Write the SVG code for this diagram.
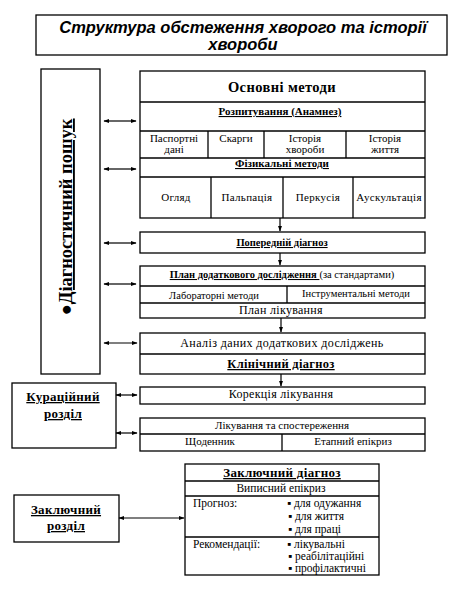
<svg xmlns="http://www.w3.org/2000/svg" width="461" height="590" viewBox="0 0 461 590">
<style>
.box{fill:#fff;stroke:#000;stroke-width:1.3}
.ln{stroke:#000;stroke-width:1.3;fill:none}
.t{font-family:"Liberation Serif","Times New Roman",serif;fill:#000}
.c{text-anchor:middle}
.b{font-weight:bold}
.u{text-decoration:underline}
.conn line{stroke:#000;stroke-width:1.2}
</style>
<defs>
<marker id="ah" viewBox="0 0 10 10" refX="9" refY="5" markerWidth="5" markerHeight="5" orient="auto-start-reverse">
<path d="M0,1.5 L10,5 L0,8.5 z" fill="#000"/>
</marker>
</defs>
<rect width="461" height="590" fill="#fff"/>

<g id="title">
<rect class="box" x="36" y="15" width="411" height="40"/>
<text x="243" y="33" font-family="Liberation Sans, Arial, sans-serif" font-weight="bold" font-style="italic" font-size="16.5" text-anchor="middle">Структура обстеження хворого та історії</text>
<text x="243" y="50" font-family="Liberation Sans, Arial, sans-serif" font-weight="bold" font-style="italic" font-size="16.5" text-anchor="middle">хвороби</text>
</g>

<g id="diag-search">
<rect class="box" x="41" y="69" width="59" height="305"/>
<text class="t b" x="0" y="0" font-size="18.5" text-anchor="middle" transform="translate(72,217) rotate(-90)">●<tspan text-decoration="underline">Діагностичний  пошук</tspan></text>
</g>

<g id="main-methods">
<rect class="box" x="140" y="71" width="285" height="147"/>
<line class="ln" x1="140" y1="102" x2="425" y2="102"/>
<line class="ln" x1="140" y1="131" x2="425" y2="131"/>
<line class="ln" x1="140" y1="158" x2="425" y2="158"/>
<line class="ln" x1="140" y1="177" x2="425" y2="177"/>
<line class="ln" x1="208" y1="131" x2="208" y2="158"/>
<line class="ln" x1="264" y1="131" x2="264" y2="158"/>
<line class="ln" x1="346" y1="131" x2="346" y2="158"/>
<line class="ln" x1="211" y1="177" x2="211" y2="218"/>
<line class="ln" x1="283" y1="177" x2="283" y2="218"/>
<line class="ln" x1="353" y1="177" x2="353" y2="218"/>
<text class="t c b" x="282" y="92" font-size="14.5" letter-spacing="0.4">Основні методи</text>
<text class="t c b u" x="280" y="115" font-size="11">Розпитування (Анамнез)</text>
<text class="t c" x="174" y="142" font-size="11">Паспортні</text>
<text class="t c" x="174" y="153" font-size="11">дані</text>
<text class="t c" x="236" y="142" font-size="11">Скарги</text>
<text class="t c" x="305" y="142" font-size="11">Історія</text>
<text class="t c" x="305" y="153" font-size="11">хвороби</text>
<text class="t c" x="385" y="142" font-size="11">Історія</text>
<text class="t c" x="385" y="153" font-size="11">життя</text>
<text class="t c b u" x="282" y="167" font-size="11">Фізикальні методи</text>
<text class="t c" x="176" y="201" font-size="11" letter-spacing="0.3">Огляд</text>
<text class="t c" x="247" y="201" font-size="11" letter-spacing="0.3">Пальпація</text>
<text class="t c" x="318" y="201" font-size="11" letter-spacing="0.3">Перкусія</text>
<text class="t c" x="389" y="201" font-size="11" letter-spacing="0.3">Аускультація</text>
</g>

<g id="prelim-diag">
<rect class="box" x="140" y="232" width="285" height="21"/>
<text class="t c b u" x="282" y="246" font-size="10.5">Попередній діагноз</text>
</g>

<g id="plan">
<rect class="box" x="140" y="266" width="285" height="52"/>
<line class="ln" x1="140" y1="286" x2="425" y2="286"/>
<line class="ln" x1="140" y1="303" x2="425" y2="303"/>
<line class="ln" x1="287" y1="286" x2="287" y2="303"/>
<text class="t c" x="282" y="278" font-size="10.5"><tspan font-weight="bold" text-decoration="underline">План додаткового дослідження </tspan>(за стандартами)</text>
<text class="t c" x="214" y="299" font-size="10.5">Лабораторні методи</text>
<text class="t c" x="356" y="297" font-size="10.5">Інструментальні методи</text>
<text class="t c" x="281" y="314" font-size="12" letter-spacing="0.3">План лікування</text>
</g>

<g id="analysis">
<rect class="box" x="140" y="333" width="285" height="41"/>
<line class="ln" x1="140" y1="354" x2="425" y2="354"/>
<text class="t c" x="282" y="347" font-size="12" letter-spacing="0.4">Аналіз даних додаткових досліджень</text>
<text class="t c b u" x="281" y="368" font-size="12.5" letter-spacing="0.3">Клінічний діагноз</text>
</g>

<g id="correction">
<rect class="box" x="140" y="387" width="285" height="17"/>
<text class="t c" x="281" y="398" font-size="12" letter-spacing="0.3">Корекція лікування</text>
</g>

<g id="treatment">
<rect class="box" x="140" y="418" width="285" height="33"/>
<line class="ln" x1="140" y1="434" x2="425" y2="434"/>
<line class="ln" x1="282" y1="434" x2="282" y2="451"/>
<text class="t c" x="282" y="429" font-size="11">Лікування та спостереження</text>
<text class="t c" x="210" y="445" font-size="11">Щоденник</text>
<text class="t c" x="353" y="445" font-size="11">Етапний епікриз</text>
</g>

<g id="curation">
<rect class="box" x="12" y="383" width="104" height="65"/>
<text class="t c b u" x="63" y="401" font-size="13" letter-spacing="0.3">Кураційний</text>
<text class="t c b u" x="63" y="418" font-size="13" letter-spacing="0.3">розділ</text>
</g>

<g id="final-diag">
<rect class="box" x="185" y="464" width="194" height="111"/>
<line class="ln" x1="185" y1="481" x2="379" y2="481"/>
<line class="ln" x1="185" y1="496" x2="379" y2="496"/>
<line class="ln" x1="185" y1="537" x2="379" y2="537"/>
<text class="t c b u" x="282" y="477" font-size="13" letter-spacing="0.3">Заключний діагноз</text>
<text class="t c" x="281" y="492" font-size="11.5">Виписний епікриз</text>
<text class="t" x="193" y="507" font-size="11.5">Прогноз:</text>
<text class="t" x="287" y="507" font-size="11.5">▪ для одужання</text>
<text class="t" x="288" y="520" font-size="11.5">▪ для життя</text>
<text class="t" x="288" y="533" font-size="11.5">▪ для праці</text>
<text class="t" x="193" y="548" font-size="11.5">Рекомендації:</text>
<text class="t" x="287" y="548" font-size="11.5">▪ лікувальні</text>
<text class="t" x="288" y="560" font-size="11.5">▪ реабілітаційні</text>
<text class="t" x="288" y="572" font-size="11.5">▪ профілактичні</text>
</g>

<g id="final-section">
<rect class="box" x="14" y="495" width="105" height="47"/>
<text class="t c b u" x="66" y="514" font-size="13" letter-spacing="0.3">Заключний</text>
<text class="t c b u" x="66" y="530" font-size="13" letter-spacing="0.3">розділ</text>
</g>

<g id="connectors" class="conn">
<line x1="104" y1="121" x2="136" y2="121" marker-start="url(#ah)" marker-end="url(#ah)"/>
<line x1="104" y1="169" x2="136" y2="169" marker-start="url(#ah)" marker-end="url(#ah)"/>
<line x1="104" y1="243" x2="136" y2="243" marker-start="url(#ah)" marker-end="url(#ah)"/>
<line x1="104" y1="284" x2="136" y2="284" marker-start="url(#ah)" marker-end="url(#ah)"/>
<line x1="104" y1="343" x2="137" y2="343" marker-start="url(#ah)" marker-end="url(#ah)"/>
<line x1="116" y1="395" x2="137" y2="395" marker-start="url(#ah)" marker-end="url(#ah)"/>
<line x1="116" y1="433" x2="137" y2="433" marker-start="url(#ah)" marker-end="url(#ah)"/>
<line x1="119" y1="518" x2="184" y2="518" marker-start="url(#ah)" marker-end="url(#ah)"/>
<line x1="280" y1="218" x2="280" y2="231" marker-end="url(#ah)"/>
<line x1="280" y1="253" x2="280" y2="265" marker-end="url(#ah)"/>
<line x1="281" y1="318" x2="281" y2="332" marker-end="url(#ah)"/>
<line x1="281" y1="374" x2="281" y2="386" marker-end="url(#ah)"/>
</g>
</svg>
